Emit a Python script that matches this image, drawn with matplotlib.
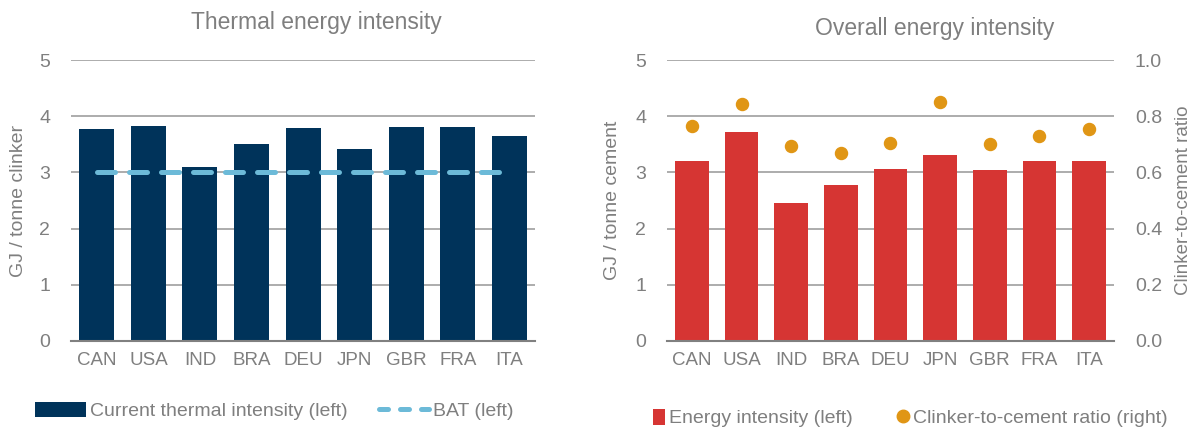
import matplotlib.pyplot as plt
from matplotlib.lines import Line2D
from matplotlib.patches import Patch

countries = ['CAN', 'USA', 'IND', 'BRA', 'DEU', 'JPN', 'GBR', 'FRA', 'ITA']
thermal_intensity = [3.77, 3.83, 3.09, 3.50, 3.79, 3.42, 3.80, 3.80, 3.64]
bat_level = [3.0] * 9
energy_intensity = [3.20, 3.71, 2.45, 2.77, 3.06, 3.31, 3.05, 3.21, 3.20]
clinker_ratio = [0.765, 0.845, 0.694, 0.670, 0.705, 0.849, 0.702, 0.730, 0.753]

NAVY = '#00335A'
LIGHT_BLUE = '#6CBAD8'
RED = '#D63533'
ORANGE = '#E09615'
GREY = '#7F7F7F'
GRID = '#A6A6A6'

plt.rcParams['font.family'] = ['Liberation Sans', 'DejaVu Sans']

fig = plt.figure(figsize=(11.96, 4.28), dpi=100)
x = range(len(countries))


def style_axis(ax, ylabel, label_x):
    ax.set_ylim(0, 5)
    ax.set_yticks(range(6))
    ax.set_xlim(-0.5, len(countries) - 0.5)
    ax.set_xticks(x)
    ax.set_xticklabels(countries)
    ax.grid(axis='y', color=GRID, linewidth=1.3)
    ax.set_axisbelow(True)
    for side in ['top', 'right', 'left']:
        ax.spines[side].set_visible(False)
    ax.spines['bottom'].set_color('#808080')
    ax.spines['bottom'].set_linewidth(1.5)
    ax.tick_params(axis='x', length=0, labelsize=13.5, colors=GREY, pad=8)
    ax.tick_params(axis='y', length=0, labelsize=14, colors=GREY, pad=15)
    ax.set_ylabel(ylabel, fontsize=14, color=GREY)
    ax.yaxis.set_label_coords(label_x, 0.5)


# left panel: thermal energy intensity
ax1 = fig.add_axes([0.0594, 0.2033, 0.388, 0.6565])
ax1.bar(x, thermal_intensity, width=0.68, color=NAVY, zorder=2)
ax1.plot(x, bat_level, color=LIGHT_BLUE, linewidth=3.6, linestyle=(0, (3.6, 2.8)),
         dash_capstyle='round', zorder=3)
style_axis(ax1, 'GJ / tonne clinker', -0.095)
fig.text(316 / 1196, 1 - 22 / 428, 'Thermal energy intensity', fontsize=16.5,
         color=GREY, ha='center', va='center')

# right panel: overall energy intensity + clinker ratio
ax2 = fig.add_axes([0.5577, 0.2033, 0.3737, 0.6565])
ax2.bar(x, energy_intensity, width=0.68, color=RED, zorder=2)
style_axis(ax2, 'GJ / tonne cement', -0.103)
fig.text(935 / 1196, 1 - 29 / 428, 'Overall energy intensity', fontsize=16.5,
         color=GREY, ha='center', va='center')

ax3 = ax2.twinx()
ax3.scatter(x, clinker_ratio, s=75, color=ORANGE, zorder=4)
ax3.set_ylim(0, 1.0)
ax3.set_yticks([0, 0.2, 0.4, 0.6, 0.8, 1.0])
ax3.set_yticklabels(['0.0', '0.2', '0.4', '0.6', '0.8', '1.0'])
for side in ['top', 'right', 'left', 'bottom']:
    ax3.spines[side].set_visible(False)
ax3.tick_params(length=0, labelsize=14, colors=GREY, pad=15)
ax3.set_ylabel('Clinker-to-cement ratio', fontsize=13.5, color=GREY)
ax3.yaxis.set_label_coords(1.136, 0.5)

# legends
left_handles = [Patch(facecolor=NAVY),
                Line2D([], [], color=LIGHT_BLUE, linewidth=3.6, linestyle=(0, (1.8, 2.4)),
                       dash_capstyle='round')]
fig.legend(left_handles, ['Current thermal intensity (left)', 'BAT (left)'],
           loc='center', bbox_to_anchor=(0.2295, 0.0397), ncol=2, frameon=False,
           fontsize=14, labelcolor=GREY, handlelength=2.6, handleheight=0.85,
           handletextpad=0.2, columnspacing=1.6)

right_handles = [Patch(facecolor=RED),
                 Line2D([], [], marker='o', color=ORANGE, linestyle='none', markersize=9)]
fig.legend(right_handles, ['Energy intensity (left)', 'Clinker-to-cement ratio (right)'],
           loc='center', bbox_to_anchor=(0.761, 0.0234), ncol=2, frameon=False,
           fontsize=14, labelcolor=GREY, handlelength=0.62, handleheight=0.88,
           handletextpad=0.2, columnspacing=2.3)

fig.savefig('out.png', dpi=100)
